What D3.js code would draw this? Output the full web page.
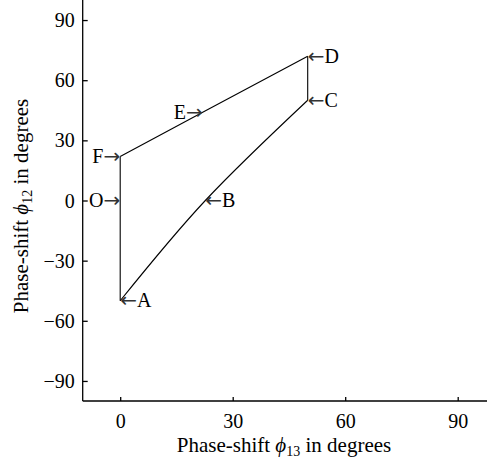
<!DOCTYPE html>
<html><head><meta charset="utf-8">
<script src="https://cdn.jsdelivr.net/npm/d3@7"></script>
<style>body{margin:0;background:#fff}svg{display:block}text{font-family:"Liberation Serif","DejaVu Serif",serif;fill:#000}</style>
</head><body>
<script>
const xTicks = [0, 30, 60, 90];
const yTicks = [-90, -60, -30, 0, 30, 60, 90];
// boundary polygon: F -> D -> C -> (curve through B) -> A -> F
const upperEdge = [[0, 22], [22, 44], [50, 72]];
const rightEdge = [[50, 72], [50, 50]];
const curveEdge = [[0, -50], [22.7, 0], [50, 50]];
const leftEdge = [[0, -50], [0, 22]];
const labelNames = ["A", "B", "C", "D", "E", "F", "O"];
const labelX = [0, 22.7, 50, 50, 22, 0, 0];
const labelY = [-50, 0, 50, 72, 44, 22, 0];
const labelSide = ["right", "right", "right", "right", "left", "left", "left"];

const W = 487, H = 464;
const svg = d3.select("body").append("svg").attr("width", W).attr("height", H);
const x = d3.scaleLinear().domain([-10, 100]).range([82.7, 495.2]);
const y = d3.scaleLinear().domain([-100, 100]).range([401, 0]);
const fmt = d3.format("");

const xAxis = svg.append("g").attr("transform", `translate(0,${y(-100)})`)
  .call(d3.axisTop(x).tickValues(xTicks).tickSize(4).tickFormat(fmt));
xAxis.selectAll("text").remove();
xAxis.select(".domain").attr("d", `M${x(-10)},0H${W}`);
xAxis.selectAll(".tick").append("text").attr("y", 27).attr("text-anchor", "middle")
  .style("font-size", "20px").text(d => fmt(d));

const yAxis = svg.append("g").attr("transform", `translate(${x(-10)},0)`)
  .call(d3.axisRight(y).tickValues(yTicks).tickSize(5).tickFormat(fmt));
yAxis.selectAll("text").remove();
yAxis.select(".domain").attr("d", `M0,0V${y(-100)}`);
yAxis.selectAll(".tick").append("text").attr("x", -8).attr("dy", "0.33em").attr("text-anchor", "end")
  .style("font-size", "20px").text(d => fmt(d));
svg.selectAll(".domain, .tick line").attr("stroke", "#000").attr("stroke-width", 1.3);

const lin = d3.line().x(d => x(d[0])).y(d => y(d[1]));
const crv = d3.line().x(d => x(d[0])).y(d => y(d[1])).curve(d3.curveNatural);
[upperEdge, rightEdge, leftEdge].forEach(e => svg.append("path").attr("d", lin(e)).attr("fill", "none").attr("stroke", "#000").attr("stroke-width", 1.1));
svg.append("path").attr("d", crv(curveEdge)).attr("fill", "none").attr("stroke", "#000").attr("stroke-width", 1.1);

const arrowFont = "DejaVu Sans";
labelNames.forEach((n, i) => {
  const px = x(labelX[i]), py = y(labelY[i]);
  const t = svg.append("text").attr("x", px).attr("y", py + 6.5).style("font-size", "20px");
  if (labelSide[i] === "right") {
    t.attr("text-anchor", "start");
    t.append("tspan").style("font-family", arrowFont).style("fill", "#333").text("\u2190");
    t.append("tspan").text(n);
  } else {
    t.attr("text-anchor", "end");
    t.append("tspan").text(n);
    t.append("tspan").style("font-family", arrowFont).style("fill", "#333").text("\u2192");
  }
});

function title(sel, sub) {
  sel.append("tspan").text("Phase-shift ");
  sel.append("tspan").style("font-style", "italic").text("\u03D5");
  sel.append("tspan").attr("dy", 4).style("font-size", "14px").text(sub);
  sel.append("tspan").attr("dy", -4).text(" in degrees");
}
const xt = svg.append("text").attr("x", 284).attr("y", 452).attr("text-anchor", "middle").style("font-size", "21px");
title(xt, "13");
const yt = svg.append("text").attr("transform", "translate(28,206) rotate(-90)").attr("text-anchor", "middle").style("font-size", "21px");
title(yt, "12");
</script>
</body></html>
